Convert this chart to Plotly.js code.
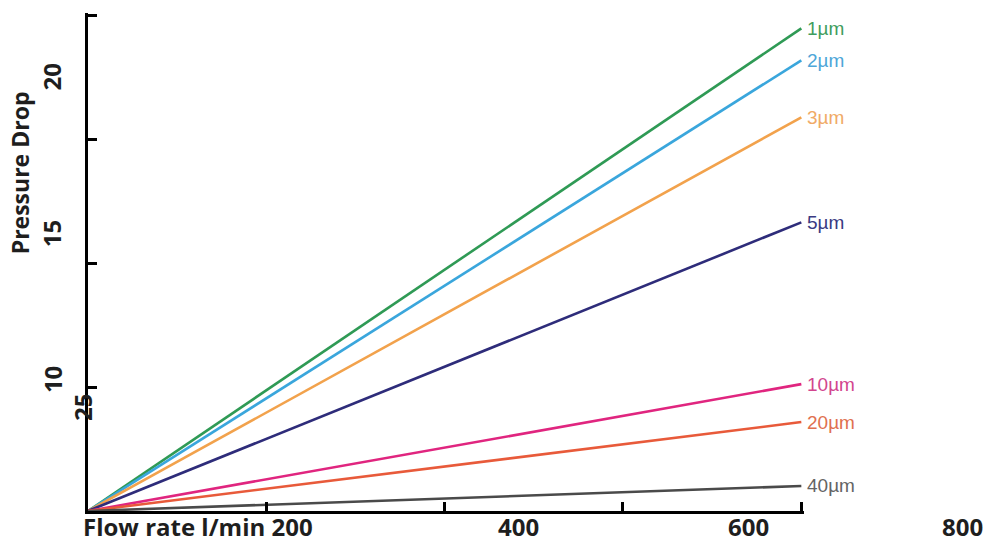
<!DOCTYPE html>
<html>
<head>
<meta charset="utf-8">
<script src="https://cdn.plot.ly/plotly-3.0.1.min.js"></script>
<style>
html,body{margin:0;padding:0;background:#fff;}
#chart{width:987px;height:544px;}
</style>
</head>
<body>
<div id="chart"></div>
<script>
// ---- data ----
const seriesNames = ['1µm','2µm','3µm','5µm','10µm','20µm','40µm'];
const flowRate = [0, 800];
const drop1 = [0, 19.48];
const drop2 = [0, 18.19];
const drop3 = [0, 15.89];
const drop5 = [0, 11.65];
const drop10 = [0, 5.12];
const drop20 = [0, 3.59];
const drop40 = [0, 1.01];
const seriesValues = [drop1, drop2, drop3, drop5, drop10, drop20, drop40];
const lineColors = ['#2f9a55','#3aa6dc','#f2a24c','#2e2c7a','#e0257f','#e85a3a','#4a4a4a'];
const labelColors = ['#3f9d5e','#4ea6d8','#f0aa66','#3a3a82','#d2458e','#e0704f','#646464'];
const xTickLabels = ['Flow rate l/min 200','400','600','800'];
const yTickLabels = ['20','15','10','25'];
const yTitle = 'Pressure Drop';

// ---- layout (pixels) ----
const W = 987, H = 544;
const L = 88, B = 511;
const xScale = (801 - 88) / 800;   // px per unit
const yScale = (511 - 15) / 20;    // px per unit
const xMax = 803, yMax = 20.1;     // small overhang so end caps are drawn
const R = L + xMax * xScale, T = B - yMax * yScale;
const px = x => (x - L) / (R - L);
const py = y => (B - y) / (B - T);

const traces = seriesValues.map((v, i) => ({
  x: flowRate, y: v, type: 'scatter', mode: 'lines',
  name: seriesNames[i], line: {color: lineColors[i], width: 2.6},
  hoverinfo: 'skip', showlegend: false, cliponaxis: false
}));

const annotations = [];
seriesValues.forEach((v, i) => {
  annotations.push({
    x: flowRate[flowRate.length - 1], y: v[v.length - 1], xref: 'x', yref: 'y',
    text: seriesNames[i], showarrow: false, xanchor: 'left', yanchor: 'middle',
    xshift: 4, font: {family: 'Liberation Sans, Arial, sans-serif', size: 19, color: labelColors[i]}
  });
});
const boldFont = {family: 'Open Sans, sans-serif', size: 24, color: '#1e1e1e'};
const xLabelPos = [198, 518, 748, 962];
xTickLabels.forEach((t, i) => {
  annotations.push({x: px(xLabelPos[i]), y: py(527), xref: 'paper', yref: 'paper',
    text: '<b>' + t + '</b>', showarrow: false, xanchor: 'center', yanchor: 'middle', font: boldFont});
});
const yLabelPos = [[51, 76], [51, 233], [52, 379], [82, 407]];
yTickLabels.forEach((t, i) => {
  annotations.push({x: px(yLabelPos[i][0]), y: py(yLabelPos[i][1]), xref: 'paper', yref: 'paper',
    text: '<b>' + t + '</b>', showarrow: false, textangle: -90, xanchor: 'center', yanchor: 'middle', font: boldFont});
});
annotations.push({x: px(20), y: py(172), xref: 'paper', yref: 'paper',
  text: '<b>' + yTitle + '</b>', showarrow: false, textangle: -90, xanchor: 'center', yanchor: 'middle',
  font: {family: 'Open Sans, sans-serif', size: 23, color: '#1e1e1e'}});

const layout = {
  width: W, height: H,
  margin: {l: L, r: W - R, t: T, b: H - B, pad: 0},
  paper_bgcolor: '#ffffff', plot_bgcolor: '#ffffff',
  xaxis: {range: [0, xMax], tickmode: 'linear', tick0: 0, dtick: 200, ticks: 'inside', ticklen: 9, tickwidth: 3,
    tickcolor: '#000', showline: true, linecolor: '#000', linewidth: 3, showgrid: false, zeroline: false,
    showticklabels: false, fixedrange: true},
  yaxis: {range: [0, yMax], tickmode: 'linear', tick0: 0, dtick: 5, ticks: 'inside', ticklen: 9, tickwidth: 3,
    tickcolor: '#000', showline: true, linecolor: '#000', linewidth: 3, showgrid: false, zeroline: false,
    showticklabels: false, fixedrange: true},
  annotations: annotations,
  showlegend: false
};

Plotly.newPlot('chart', traces, layout, {displayModeBar: false, staticPlot: true});
</script>
</body>
</html>
